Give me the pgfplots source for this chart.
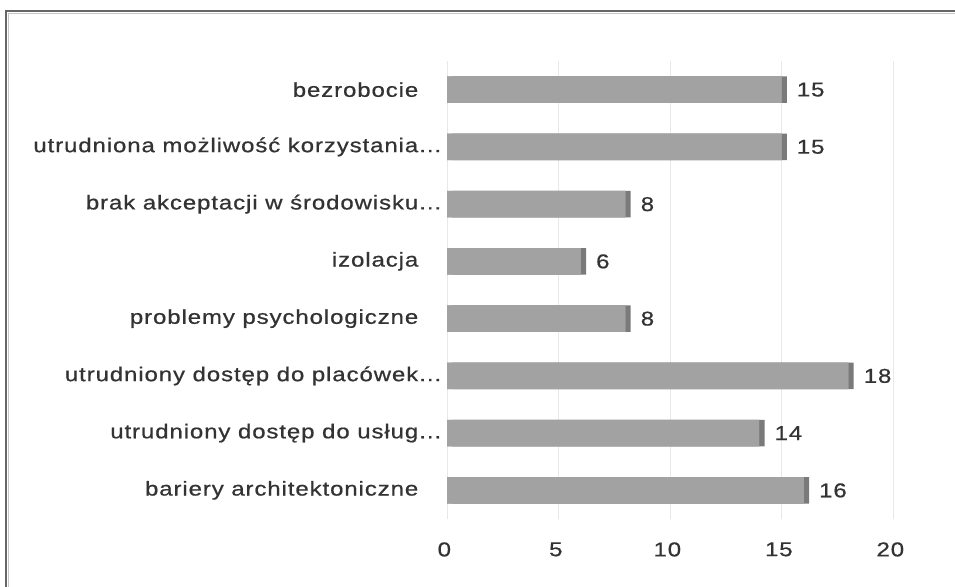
\documentclass[border=0pt]{standalone}
\usepackage{pgfplots}
\pgfplotsset{compat=1.18}
\usepackage{fontspec}
\setmainfont{Liberation Sans}[FakeStretch=1.2, LetterSpace=4.5, FakeBold=0.7]
\definecolor{bargray}{HTML}{A2A2A2}
\definecolor{sidegray}{HTML}{7A7A7A}
\definecolor{topgray}{HTML}{B4B4B4}
\definecolor{txtgray}{HTML}{333333}
\definecolor{gridgray}{HTML}{E8E8E8}
\begin{document}
\begin{tikzpicture}
\path[use as bounding box] (0,0) rectangle (716.25pt,439.5pt);
\draw[gray!80!black, line width=1.3pt] (4.5pt,-5pt) -- (4.5pt,431.5pt) -- (730pt,431.5pt);
\draw[gray!45, line width=0.8pt] (6.5pt,-5pt) -- (6.5pt,429.5pt) -- (730pt,429.5pt);
\begin{axis}[
  at={(335.25pt,50.25pt)}, anchor=south west,
  scale only axis,
  width=334.5pt, height=343.5pt,
  xmin=0, xmax=20,
  ymin=-0.5, ymax=7.5,
  xbar, bar width=20pt, bar shift=0pt,
  xtick={0,5,10,15,20},
  ytick={0,1,2,3,4,5,6,7},
  yticklabels={bariery architektoniczne, utrudniony dostęp do usług\rlap{\ldots}, utrudniony dostęp do placówek\rlap{\ldots}, problemy psychologiczne, izolacja, brak akceptacji w środowisku\rlap{\ldots}, utrudniona możliwość korzystania\rlap{\ldots}, bezrobocie},
  axis line style={draw=none},
  major tick length=0pt,
  xmajorgrids, grid style={gridgray, line width=0.6pt},
  /pgf/number format/assume math mode=true,
  tick label style={font=\fontsize{15pt}{18pt}\selectfont, text=txtgray},
  xticklabel style={yshift=-14pt, xshift=-2pt},
  yticklabel style={xshift=-18pt},
  clip=false,
]
\addplot[fill=sidegray, draw=none, xshift=4pt] coordinates {
  (16,0) (14,1) (18,2) (8,3) (6,4) (8,5) (15,6) (15,7)
};
\addplot[fill=bargray, draw=none, postaction={draw=topgray, line width=0.8pt, dash pattern=on 0pt off 1000pt}]
  coordinates {
  (16,0) (14,1) (18,2) (8,3) (6,4) (8,5) (15,6) (15,7)
};
\addplot[draw=none, fill=none,
  nodes near coords,
  nodes near coords style={font=\fontsize{15pt}{18pt}\selectfont, text=txtgray, xshift=8pt}]
  coordinates {
  (16,0) (14,1) (18,2) (8,3) (6,4) (8,5) (15,6) (15,7)
};
\end{axis}
\end{tikzpicture}
\end{document}
